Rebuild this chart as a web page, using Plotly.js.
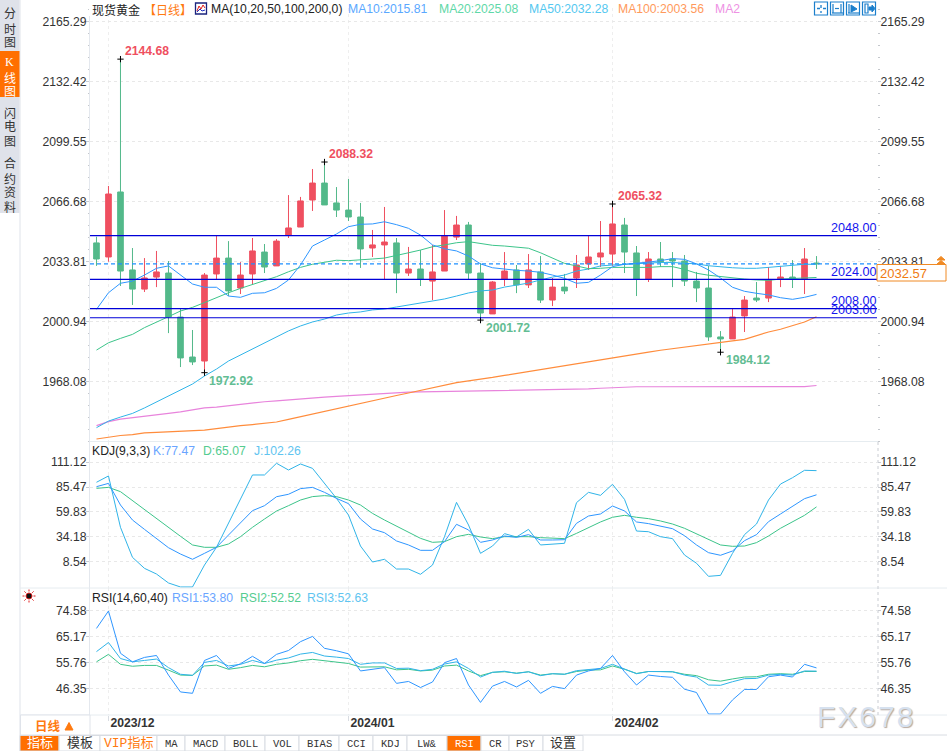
<!DOCTYPE html>
<html><head><meta charset="utf-8">
<script src="https://cdn.plot.ly/plotly-3.0.1.min.js"></script>
<style>html,body{margin:0;padding:0;background:#fff}#c{width:947px;height:751px}</style>
</head><body><div id="c"></div>
<script>
const opens=[2044.0,2036.3,2071.9,2029.2,2018.7,2025.3,2027.5,2003.4,1981.5,1979.3,2027.0,2035.7,2019.3,2027.0,2039.0,2031.4,2048.3,2052.7,2067.5,2076.8,2065.9,2062.0,2058.2,2041.2,2042.9,2044.0,2027.5,2029.7,2023.1,2028.6,2047.2,2053.8,2027.5,2005.1,2024.2,2029.2,2021.0,2028.1,2012.7,2019.8,2024.8,2032.5,2036.3,2037.9,2053.8,2038.5,2024.2,2035.2,2035.2,2034.1,2023.1,2019.3,1992.5,1991.4,2004.0,2013.8,2013.8,2024.2,2025.3,2024.2,2033.0];
const highs=[2047.4,2075.2,2144.68,2041.2,2035.7,2039.6,2034.1,2007.8,1996.3,2027.5,2048.3,2045.0,2033.5,2046.7,2043.4,2046.1,2070.2,2069.2,2084.5,2088.32,2074.6,2079.0,2065.9,2051.1,2063.7,2046.7,2041.8,2040.1,2042.9,2062.0,2058.8,2055.5,2033.0,2023.1,2039.0,2031.9,2037.9,2036.8,2024.8,2027.0,2037.4,2047.8,2056.0,2065.32,2057.7,2042.3,2039.0,2044.5,2039.0,2037.4,2028.1,2031.4,1995.7,2008.3,2014.9,2022.6,2030.8,2031.4,2034.6,2041.2,2036.8];
const lows=[2031.4,2033.7,2020.4,2010.0,2017.1,2019.8,1994.6,1976.0,1977.1,1972.92,2024.2,2014.9,2016.0,2021.5,2027.5,2031.4,2046.7,2052.7,2061.5,2064.8,2058.2,2056.0,2030.3,2036.3,2024.2,2016.5,2025.9,2020.4,2012.7,2028.6,2045.6,2024.2,2001.72,2005.1,2020.4,2016.5,2019.3,2011.1,2009.4,2016.0,2019.3,2029.2,2030.8,2031.4,2027.5,2014.9,2022.6,2030.8,2019.8,2020.4,2011.6,1990.3,1984.12,1991.4,1995.2,2011.6,2011.6,2019.8,2019.3,2016.0,2029.7];
const closes=[2035.2,2070.8,2028.6,2018.7,2024.8,2028.1,2003.4,1981.0,1978.8,2026.4,2035.7,2017.7,2026.4,2039.6,2030.8,2045.0,2052.2,2067.0,2076.8,2064.8,2062.0,2058.2,2040.7,2042.9,2044.5,2027.5,2029.7,2024.2,2028.1,2047.8,2053.8,2027.5,2005.6,2022.6,2028.6,2021.0,2029.2,2012.7,2019.8,2017.7,2031.9,2036.3,2038.5,2054.4,2039.0,2024.2,2035.2,2033.5,2034.1,2023.1,2019.3,1992.5,1991.4,2003.4,2012.7,2012.7,2023.7,2025.3,2024.2,2035.2,2032.57];
const ma10=[2007.6,2016.7,2021.9,2023.1,2026.4,2030.1,2031.4,2026.4,2021.5,2019.7,2019.7,2014.9,2014.2,2016.4,2016.7,2019.1,2023.7,2031.9,2042.3,2045.6,2048.9,2052.9,2054.2,2054.4,2055.6,2054.0,2052.0,2048.3,2042.9,2040.8,2039.6,2036.8,2032.5,2030.4,2029.5,2029.0,2028.6,2027.9,2026.4,2024.6,2021.9,2022.4,2026.4,2031.0,2032.3,2032.8,2033.5,2034.3,2035.4,2035.0,2032.5,2029.2,2024.8,2019.7,2017.5,2016.4,2015.5,2014.0,2013.1,2014.2,2015.81];
const ma20=[1985.3,1989.3,1991.7,1993.9,1997.6,2000.8,2003.6,2006.7,2008.7,2011.3,2014.2,2016.7,2019.1,2021.3,2023.3,2025.5,2028.2,2030.6,2032.3,2033.5,2034.5,2034.3,2034.6,2035.2,2035.7,2037.0,2038.6,2040.1,2041.9,2042.9,2044.1,2044.7,2043.8,2042.7,2042.3,2041.6,2041.1,2038.6,2035.6,2032.8,2031.4,2029.9,2030.1,2030.6,2030.6,2030.4,2030.6,2031.0,2031.0,2029.5,2027.4,2026.3,2025.5,2024.6,2024.2,2023.7,2023.5,2024.2,2024.4,2024.9,2025.08];
const ma50=[1942.8,1946.4,1948.6,1950.6,1953.6,1956.8,1960.1,1963.4,1966.7,1971.1,1974.9,1979.3,1982.6,1985.9,1989.2,1992.5,1995.8,1998.5,2000.7,2002.3,2004.5,2005.6,2006.2,2007.3,2007.8,2008.9,2010.0,2011.1,2012.2,2013.3,2014.9,2016.6,2017.7,2018.2,2019.8,2020.9,2022.0,2023.7,2025.3,2026.4,2028.6,2029.7,2031.4,2031.9,2032.3,2032.6,2033.0,2033.3,2033.3,2033.0,2032.5,2031.5,2030.8,2030.4,2030.1,2030.1,2030.6,2031.2,2032.1,2032.3,2032.28];
const ma100=[1936.6,1937.7,1938.5,1939.0,1939.9,1940.2,1940.5,1940.7,1940.9,1941.5,1942.3,1943.2,1943.9,1944.5,1945.2,1945.9,1947.3,1948.8,1950.3,1951.6,1953.0,1954.5,1956.0,1957.6,1959.1,1960.4,1961.8,1963.2,1964.5,1966.2,1967.5,1968.4,1969.2,1970.3,1971.4,1972.5,1973.5,1974.4,1975.5,1976.6,1977.7,1978.8,1979.9,1981.0,1982.1,1983.2,1984.2,1985.2,1986.0,1986.8,1987.5,1988.3,1989.2,1990.3,1991.2,1993.3,1995.2,1996.7,1998.8,2000.7,2003.56];
const ma200=[1943.9,1946.1,1947.5,1948.2,1948.9,1949.6,1950.6,1951.4,1952.5,1953.6,1954.1,1954.9,1955.6,1956.3,1957.0,1957.5,1958.1,1958.5,1959.1,1959.5,1959.9,1960.3,1960.7,1961.2,1961.8,1962.2,1962.3,1962.4,1962.5,1962.7,1962.8,1962.7,1962.9,1963.0,1963.2,1963.4,1963.4,1963.5,1963.7,1963.8,1963.9,1964.0,1964.4,1964.8,1965.1,1965.2,1965.2,1965.2,1965.2,1965.1,1965.0,1964.9,1964.9,1964.9,1964.9,1964.9,1964.9,1964.9,1965.0,1965.3,1965.9];
const kdjK=[85.8,89.2,67.0,51.6,42.0,32.8,23.2,16.7,11.3,17.4,23.6,36.2,48.2,61.2,66.3,75.5,78.0,83.8,85.1,80.0,73.8,68.4,52.6,42.4,38.6,30.1,26.0,20.5,20.5,29.4,47.2,41.4,28.7,31.1,35.2,33.8,36.6,31.1,31.1,31.4,48.2,55.7,57.8,66.0,60.9,49.6,47.9,45.4,42.7,35.5,26.0,18.1,15.4,19.8,30.4,36.6,49.9,57.8,65.3,73.5,77.47];
const kdjD=[84.1,85.1,80.7,71.4,62.6,53.3,44.1,34.9,26.0,23.6,23.6,27.0,34.5,44.1,52.6,60.8,66.3,72.1,75.6,76.6,75.6,72.1,67.0,58.4,51.6,45.4,39.6,32.8,28.7,29.4,34.5,36.9,34.2,32.5,34.5,34.5,34.5,33.5,32.8,32.5,37.9,44.1,49.6,54.4,56.4,54.4,53.0,50.6,47.5,43.1,37.2,31.1,26.0,24.6,24.9,28.4,35.2,43.1,49.6,56.4,65.07];
const kdjJ=[90.3,96.8,44.1,13.3,2.0,-3.8,-13.0,-17.1,-17.1,5.4,23.6,48.2,72.8,97.8,97.8,109.8,102.9,109.1,104.6,89.2,73.8,56.7,24.9,8.5,11.3,1.3,1.3,-4.1,5.4,34.5,69.7,46.5,17.4,24.9,37.6,34.2,42.0,26.0,27.0,27.7,69.4,80.0,76.9,88.2,72.8,40.3,39.6,34.5,32.5,15.7,7.2,-6.2,-5.2,17.4,36.6,47.5,72.1,88.5,95.0,102.6,102.26];
const rsi1=[68.1,74.4,59.1,56.0,57.6,58.3,51.2,45.1,44.6,56.5,58.3,53.6,55.3,58.0,55.4,58.7,60.1,63.3,65.2,60.9,60.0,58.9,52.7,53.4,53.9,48.2,48.9,46.7,48.7,55.7,57.2,47.6,41.3,47.2,48.9,46.9,49.3,44.6,47.1,46.3,51.2,52.7,53.6,58.3,52.4,47.6,51.2,50.7,50.4,46.1,44.9,37.1,37.1,42.2,46.0,46.0,50.6,51.2,50.5,55.1,53.80];
const rsi2=[56.0,58.7,55.1,54.4,54.7,54.7,53.0,51.2,51.1,54.5,54.8,53.3,53.9,54.7,54.2,55.1,55.6,56.4,56.9,56.4,55.8,55.4,54.1,54.2,54.2,53.1,53.3,52.7,53.0,54.5,54.8,52.7,51.0,52.2,52.4,51.9,52.4,51.2,51.7,51.5,52.5,53.0,53.1,54.5,53.3,51.8,52.5,52.5,52.4,51.5,51.0,49.5,49.0,49.8,50.5,50.6,51.5,51.7,51.5,52.5,52.52];
const rsi3=[59.7,63.0,57.2,56.0,56.5,57.0,53.9,51.5,51.1,55.8,56.5,54.5,55.1,56.5,55.4,56.6,57.4,58.8,59.4,58.1,57.7,57.2,55.1,55.6,55.6,53.6,53.7,52.8,53.3,55.2,56.0,53.6,50.5,52.2,52.6,51.8,52.4,51.0,51.7,51.5,52.8,53.3,53.6,55.1,53.3,51.7,52.5,52.5,52.4,51.2,50.5,47.6,47.5,48.8,49.9,50.0,51.2,51.5,51.2,52.7,52.63];
const levels=[2048.00,2024.00,2008.00,2003.00];
const lastPrice=2032.57;
const highIdx=[2,19,43], highVals=[2144.68,2088.32,2065.32];
const lowIdx=[9,32,52], lowVals=[1972.92,2001.72,1984.12];
const ticksMain=[2165.29,2132.42,2099.55,2066.68,2033.81,2000.94,1968.08];
const ticksKdj=[111.12,85.47,59.83,34.18,8.54];
const ticksRsi=[74.58,65.17,55.76,46.35];
const monthIdx=[1,21,43], monthLabels=['2023/12','2024/01','2024/02'];
const xs=opens.map((_,i)=>i);

const W=947,H=751, FONT='Arial, "Liberation Sans", sans-serif', CJK='"Noto Sans CJK SC", sans-serif';
const RED='#ef4f60', GREEN='#53b98a';
const px=x=>x/W, py=y=>1-y/H;
const ann=[], shp=[];
function T(text,x,y,color,size,o){o=o||{};ann.push({text,xref:'paper',yref:'paper',x:px(x),y:py(y),xanchor:o.a||'left',yanchor:'middle',showarrow:false,borderpad:0,borderwidth:0,
  font:{family:o.f||FONT,size:size||12.2,color:color||'#222',weight:o.w||400,shadow:o.s}});}
function R(x0,y0,x1,y1,fill,line,lw){shp.push({type:'rect',xref:'paper',yref:'paper',x0:px(x0),x1:px(x1),y0:py(y0),y1:py(y1),fillcolor:fill||'rgba(0,0,0,0)',line:{color:line||'rgba(0,0,0,0)',width:line?(lw||1):0},layer:'above'});}
function L(x0,y0,x1,y1,c,w,d){shp.push({type:'line',xref:'paper',yref:'paper',x0:px(x0),x1:px(x1),y0:py(y0),y1:py(y1),line:{color:c,width:w||1,dash:d||'solid'},layer:'above'});}
function P(pts,c,w,fill){shp.push({type:'path',xref:'paper',yref:'paper',path:pts.map((p,i)=>(i?'L':'M')+px(p[0])+','+py(p[1])).join(' ')+(fill?' Z':''),fillcolor:fill||'rgba(0,0,0,0)',line:{color:c,width:w||1},layer:'above'});}

// frame
L(20,0,20,751,'#dfe3ea');L(89.5,16,89.5,715,'#e4e8ee');
L(90,441.5,878,441.5,'#e6ecf0');L(20,588,947,588,'#e6ecf0');L(20,715,947,715,'#e6ecf0');L(20,735,947,735,'#d8dce2');
L(878,442,878,715,'#c9ccd2',1,'dot');
R(0,0,19.5,213,'#dfe2ea');R(0,51,19.5,97,'#ff6f00');
[[ '分',13],['时',28],['图',41],['线',77],['图',91],['闪',112],['电',126],['图',140],['合',163],['约',178],['资',192],['料',206]].forEach(c=>T(c[0],9.5,c[1],(c[1]>51&&c[1]<97)?'#fff':'#333',12,{a:'center',f:CJK}));
T('K',9.5,62,'#fff',12,{a:'center',f:'"Liberation Serif",serif'});

// header
T('现货黄金',92,9,'#222',12,{f:CJK});T('【日线】',144,9,'#ff7a10',12,{f:CJK});
R(195.5,3,206.5,14,'#fff','#1a237e',1.3);P([[197,11],[199,6],[201,9],[203,5],[205,8]],'#e02020',1);P([[197,12],[200,9],[202,11],[205,10]],'#2030c0',1);
T('MA(10,20,50,100,200,0)',211,9,'#222');
T('MA10:2015.81',348,9,'#5aa8ff');T('MA20:2025.08',439,9,'#5fd8a8');T('MA50:2032.28',529,9,'#55c8f0');T('MA100:2003.56',618,9,'#ff9a5c');T('MA2',715,9,'#ee92e4');
// tool icons
[814,830,846,862].forEach(x=>R(x+.5,2,x+13.5,15,'#fff','#1b7fcc',1.2));
L(817,8.5,826,8.5,'#1b7fcc',1.3,'dot');L(821,5,821,13,'#1b7fcc',1.3,'dot');
L(833,4,833,13,'#1b7fcc',1.2);L(841,4,841,13,'#1b7fcc',1.2);L(835,8.5,839,8.5,'#1b7fcc',1.2);L(832,13,843,13,'#1b7fcc',1.2);
L(849,4,849,13,'#1b7fcc',1.2);L(848,13,859,13,'#1b7fcc',1.2);P([[851,5],[857,9],[851,12]],'#1b7fcc',1,'#1b7fcc');
R(865,4,868,13,'#fff','#1b7fcc',1.2);P([[869,7],[872,7],[872,5],[875,8.5],[872,12],[872,10],[869,10]],'#1b7fcc',1,'#1b7fcc');

// levels, last price
levels.forEach((v,i)=>{
  shp.push({type:'line',xref:'paper',yref:'y',x0:px(90),x1:px(877),y0:v,y1:v,line:{color:'#0000d8',width:1.2},layer:'above'});
  ann.push({text:v.toFixed(2),xref:'paper',yref:'y',x:px(877),y:v,yshift:7.5,xanchor:'right',yanchor:'middle',showarrow:false,borderpad:0,borderwidth:0,font:{family:FONT,size:12.6,color:'#1414ee'}});
});
shp.push({type:'line',xref:'paper',yref:'y',x0:px(90),x1:px(877),y0:lastPrice,y1:lastPrice,line:{color:'#1e90ff',width:1.2,dash:'4px,3px'},layer:'above'});
R(877,264.5,946,281,'#fff','#f08a24',1);
T(lastPrice.toFixed(2),880,273,'#f07a10',13);
P([[937,260],[941,256.5],[945,260]],'#f08a24',1,'#f08a24');P([[937,264],[941,260.5],[945,264]],'#f08a24',1,'#f08a24');

// extreme labels
function X(idx,val,col,dx,dy){ann.push({text:val.toFixed(2),xref:'x',yref:'y',x:idx,y:val,xshift:dx,yshift:dy,xanchor:'left',yanchor:'middle',showarrow:false,borderpad:0,borderwidth:0,font:{family:FONT,size:12.2,color:col,weight:700}});}
highIdx.forEach((d,i)=>X(d,highVals[i],'#ef4f60',5,8));
lowIdx.forEach((d,i)=>X(d,lowVals[i],'#62bd93',5,-8));

// sub-panel titles
T('KDJ(9,3,3)',92,451,'#222');T('K:77.47',153,451,'#6aa5ff');T('D:65.07',203,451,'#55cc90');T('J:102.26',254,451,'#60c4f0');
T('RSI(14,60,40)',92,598,'#222');T('RSI1:53.80',172,598,'#6aa5ff');T('RSI2:52.52',240,598,'#55cc90');T('RSI3:52.63',307,598,'#60c4f0');
// sun icon
shp.push({type:'circle',xref:'paper',yref:'paper',x0:px(26),x1:px(32),y0:py(593),y1:py(599),fillcolor:'#111',line:{color:'#e02020',width:1},layer:'above'});
[[22.5,596,24.5,596],[33.5,596,35.5,596],[29,589.5,29,591.5],[29,600.5,29,602.5],[24.4,591.4,25.8,592.8],[32.2,599.2,33.6,600.6],[24.4,600.6,25.8,599.2],[32.2,592.8,33.6,591.4]].forEach(s=>L(s[0],s[1],s[2],s[3],'#e02020',1));

// date box and bottom tabs
R(20.5,715,90,735,'#fff','#dfe3ea');
T('日线',35,725,'#ff7a10',12.5,{f:CJK,w:700});
P([[65,730],[69,722.5],[73,730]],'#ff7a10',1,'#ff7a10');
const tabs=[['指标',20,59],['模板',59,100],['VIP指标',100,157],['MA',157,185],['MACD',185,225],['BOLL',225,265],['VOL',265,299],['BIAS',299,339],['CCI',339,373],['KDJ',373,407],['LW&amp;',407,447],['RSI',447,481],['CR',481,509],['PSY',509,543],['设置',543,583]];
tabs.forEach(t=>{
  const on=(t[0]==='指标'||t[0]==='RSI');
  R(t[1],735.5,t[2],751,on?'#ff6f00':'#fff','#d8dce2');
  const cjk=/[\u4e00-\u9fff]/.test(t[0]);
  T(t[0],(t[1]+t[2])/2,743.5,on?'#fff':(t[0]==='VIP指标'?'#ff7a10':'#333'),cjk?13:10.5,{a:'center',f:cjk?'"Liberation Mono","Noto Sans CJK SC",monospace':'"Liberation Mono",monospace'});
});
// watermark
T('FX678',822,716,'#d6e1ef',30,{w:400,s:'1px 1px 1px #b9aaa0'});

const line=(y,c,ya,w)=>({type:'scatter',mode:'lines',x:xs,y,xaxis:'x',yaxis:ya,line:{color:c,width:w||1,shape:'linear'},hoverinfo:'skip'});
const data=[
 {type:'candlestick',x:xs,open:opens,high:highs,low:lows,close:closes,xaxis:'x',yaxis:'y',whiskerwidth:0,hoverinfo:'skip',
  increasing:{line:{color:RED,width:1},fillcolor:RED},decreasing:{line:{color:GREEN,width:1},fillcolor:GREEN}},
 line(ma200,'#e884dc','y2',1.2),line(ma100,'#ff8c3c','y2',1.2),line(ma50,'#30b4e8','y2'),line(ma20,'#3cc48a','y2'),line(ma10,'#2e96ff','y2'),
 {type:'scatter',mode:'markers',x:highIdx.concat(lowIdx),y:highVals.concat(lowVals),xaxis:'x',yaxis:'y2',hoverinfo:'skip',marker:{symbol:'cross-thin',size:4.5,line:{color:'#000',width:1}}},
 line(kdjJ,'#30b4e8','y3'),line(kdjD,'#3cc48a','y4'),line(kdjK,'#2e96ff','y4'),
 line(rsi2,'#3cc48a','y5'),line(rsi3,'#30b4e8','y6'),line(rsi1,'#2e96ff','y6')
];
const TF={family:FONT,size:12.2,color:'#333'};
function yax(dom,rng,vals,side,over,minorStep){
  const a={domain:dom,range:rng,tickmode:'array',tickvals:vals,ticktext:vals.map(v=>v.toFixed(2)),tickfont:TF,side,anchor:'x',fixedrange:true,zeroline:false,
    showline:false,ticks:'outside',ticklen:3,tickcolor:'#c9ccd2',ticklabelstandoff:-3};
  if(over){a.overlaying=over;a.showgrid=false;}else{a.showgrid=true;a.gridcolor='#e8e8e8';a.griddash='dot';a.gridwidth=1;}
  if(minorStep)a.minor={tickmode:'linear',tick0:vals[0],dtick:minorStep,ticks:'outside',ticklen:1.5,tickcolor:'#c4c7cc',showgrid:false};
  return a;
}
const dM=[py(441.5),py(8)],rM=[1935.22,2172.69];
const dK=[py(588),py(442)],rK=[-18.16,131.64];
const dR=[py(715),py(588)],rR=[36.75,82.73];
const minorMain=(ticksMain[0]-ticksMain[1])/5;
const layout={width:W,height:H,margin:{l:0,r:0,t:0,b:0,pad:0},autosize:false,paper_bgcolor:'#fff',plot_bgcolor:'#fff',showlegend:false,boxgap:0.33,dragmode:false,
 xaxis:{domain:[px(90),px(877)],range:[-0.54,65.04],anchor:'y5',tickmode:'array',tickvals:monthIdx,ticktext:monthLabels,ticks:'outside',ticklen:5,tickcolor:'#d8dce2',
   tickfont:{family:FONT,size:12.2,color:'#333',weight:700},ticklabelshift:24,ticklabelstandoff:-9,showgrid:true,gridcolor:'#eeeeee',griddash:'dot',zeroline:false,showline:false,fixedrange:true,rangeslider:{visible:false}},
 yaxis:yax(dM,rM,ticksMain,'left',null,minorMain),yaxis2:yax(dM,rM,ticksMain,'right','y',minorMain),
 yaxis3:yax(dK,rK,ticksKdj,'left'),yaxis4:yax(dK,rK,ticksKdj,'right','y3'),
 yaxis5:yax(dR,rR,ticksRsi,'left'),yaxis6:yax(dR,rR,ticksRsi,'right','y5'),
 shapes:shp,annotations:ann};
Plotly.newPlot('c',data,layout,{displayModeBar:false,staticPlot:true}).then(()=>{
  document.querySelectorAll('.annotation-text').forEach(t=>{if(t.textContent==='FX678')t.style.letterSpacing='2px';});
});
</script></body></html>
